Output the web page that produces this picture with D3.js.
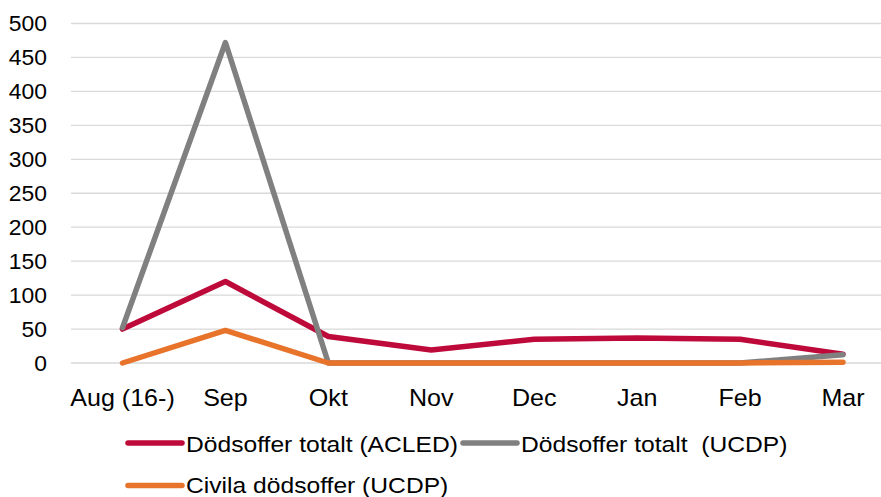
<!DOCTYPE html>
<html><head><meta charset="utf-8">
<script src="https://cdn.jsdelivr.net/npm/d3@7"></script>
<style>body{margin:0;background:#fff;}svg{display:block;font-family:"Liberation Sans",Arial,sans-serif;}</style>
</head><body><svg id="c" width="881" height="497"></svg>
<script>
const categories = ["Aug (16-)","Sep","Okt","Nov","Dec","Jan","Feb","Mar"];
const acled = [50,120,39,19,35,37,35,13];
const ucdpTotal = [52,472,0,0,0,0,0,12];
const ucdpCivil = [0,48,0,0,0,0,0,1];
const yTicks = [0,50,100,150,200,250,300,350,400,450,500];
const seriesNames = ["Dödsoffer totalt (ACLED)","Dödsoffer totalt  (UCDP)","Civila dödsoffer (UCDP)"];
const colors = ["#BE0A3A","#808080","#E8732A"];

const svg = d3.select("#c");
const x = d3.scalePoint().domain(categories).range([122.5, 843]);
const y = d3.scaleLinear().domain([0,500]).range([363, 23.5]);

// gridlines
svg.append("g").selectAll("line").data(yTicks).join("line")
  .attr("x1",71).attr("x2",881).attr("y1",d=>y(d)).attr("y2",d=>y(d))
  .attr("stroke","#d9d9d9").attr("stroke-width",1.3);

// y axis labels
svg.append("g").selectAll("g").data(yTicks).join("g")
  .attr("transform",d=>`translate(47,${y(d)}) scale(1.04,1)`)
  .append("text").attr("dy","0.36em").attr("text-anchor","end")
  .attr("font-size",22).attr("fill","#000").text(d=>d);

// x labels
svg.append("g").selectAll("g").data(categories).join("g")
  .attr("transform",d=>`translate(${x(d)},406) scale(1.09,1)`)
  .append("text").attr("text-anchor","middle")
  .attr("font-size",23).attr("fill","#000").text(d=>d);

const line = d3.line().x((d,i)=>x(categories[i])).y(d=>y(d));
const data = [acled, ucdpTotal, ucdpCivil];
[0,1,2].forEach(k=>{
  svg.append("path").datum(data[k]).attr("d",line).attr("fill","none")
    .attr("stroke",colors[k]).attr("stroke-width",5.5).attr("stroke-linejoin","round").attr("stroke-linecap","round");
});

// legend
const leg = [
  {k:0,x1:128,y:443,b:451.5},
  {k:1,x1:463,y:443,b:451.5},
  {k:2,x1:128,y:485.5,b:493}
];
leg.forEach(l=>{
  svg.append("line").attr("x1",l.x1).attr("x2",l.x1+54).attr("y1",l.y).attr("y2",l.y)
    .attr("stroke",colors[l.k]).attr("stroke-width",5.5).attr("stroke-linecap","round");
  svg.append("g").attr("transform",`translate(${l.x1+58},${l.b}) scale(1.12,1)`)
    .append("text").attr("font-size",22).attr("fill","#000")
    .style("white-space","pre").text(seriesNames[l.k]);
});
</script></body></html>
